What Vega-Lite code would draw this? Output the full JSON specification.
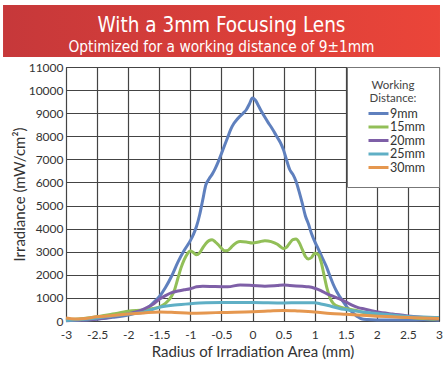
{
  "$schema": "https://vega.github.io/schema/vega-lite/v6.json",
  "padding": {"left": 3, "top": 5, "right": 0, "bottom": 0},
  "background": "white",
  "config": {"font": "Lato", "view": {"stroke": "#555"}},
  "columns": 1,
  "align": "none",
  "spacing": 3,
  "resolve": {"scale": {"color": "independent"}, "legend": {"color": "independent"}},
  "concat": [
    {
      "width": 373,
      "height": 52,
      "data": {"values": [{"banner": "header"}]},
      "mark": {"type": "rect", "clip": false, "fill": {"gradient": "linear", "x1": 0, "x2": 1, "y1": 0, "y2": 0, "stops": [{"offset": 0, "color": "#c6383a"}, {"offset": 1, "color": "#eb4539"}]}},
      "encoding": {
        "x": {"datum": -4.013, "type": "quantitative", "scale": {"domain": [-3, 3], "nice": false, "zero": false}, "axis": null},
        "x2": {"datum": 3.016}
      },
      "view": {"stroke": null},
      "title": {
        "text": "With a 3mm Focusing Lens",
        "subtitle": "Optimized for a working distance of 9±1mm",
        "color": "white",
        "subtitleColor": "white",
        "font": "DejaVu Sans Condensed",
        "subtitleFont": "DejaVu Sans Condensed",
        "fontSize": 20.5,
        "subtitleFontSize": 15.3,
        "fontWeight": "normal",
        "anchor": "middle",
        "frame": "bounds",
        "offset": -50,
        "subtitlePadding": 3
      }
    },
    {
      "width": 373,
      "height": 254,
      "data": {"values": [
        {"distance":"9mm","radius":-3,"irradiance":20},{"distance":"9mm","radius":-2.75,"irradiance":40},{"distance":"9mm","radius":-2.5,"irradiance":80},{"distance":"9mm","radius":-2.25,"irradiance":160},{"distance":"9mm","radius":-2,"irradiance":260},{"distance":"9mm","radius":-1.9,"irradiance":320},{"distance":"9mm","radius":-1.8,"irradiance":420},{"distance":"9mm","radius":-1.7,"irradiance":540},{"distance":"9mm","radius":-1.6,"irradiance":780},{"distance":"9mm","radius":-1.5,"irradiance":1050},{"distance":"9mm","radius":-1.4,"irradiance":1450},{"distance":"9mm","radius":-1.3,"irradiance":1950},{"distance":"9mm","radius":-1.2,"irradiance":2550},{"distance":"9mm","radius":-1.1,"irradiance":3050},{"distance":"9mm","radius":-1,"irradiance":3480},{"distance":"9mm","radius":-0.95,"irradiance":3750},{"distance":"9mm","radius":-0.9,"irradiance":4100},{"distance":"9mm","radius":-0.85,"irradiance":4600},{"distance":"9mm","radius":-0.8,"irradiance":5250},{"distance":"9mm","radius":-0.75,"irradiance":5900},{"distance":"9mm","radius":-0.7,"irradiance":6150},{"distance":"9mm","radius":-0.65,"irradiance":6350},{"distance":"9mm","radius":-0.6,"irradiance":6600},{"distance":"9mm","radius":-0.55,"irradiance":6900},{"distance":"9mm","radius":-0.5,"irradiance":7250},{"distance":"9mm","radius":-0.45,"irradiance":7600},{"distance":"9mm","radius":-0.4,"irradiance":7950},{"distance":"9mm","radius":-0.35,"irradiance":8300},{"distance":"9mm","radius":-0.3,"irradiance":8550},{"distance":"9mm","radius":-0.25,"irradiance":8730},{"distance":"9mm","radius":-0.2,"irradiance":8870},{"distance":"9mm","radius":-0.15,"irradiance":9000},{"distance":"9mm","radius":-0.1,"irradiance":9150},{"distance":"9mm","radius":-0.05,"irradiance":9400},{"distance":"9mm","radius":0,"irradiance":9660},{"distance":"9mm","radius":0.05,"irradiance":9550},{"distance":"9mm","radius":0.1,"irradiance":9300},{"distance":"9mm","radius":0.15,"irradiance":9050},{"distance":"9mm","radius":0.2,"irradiance":8820},{"distance":"9mm","radius":0.25,"irradiance":8600},{"distance":"9mm","radius":0.3,"irradiance":8400},{"distance":"9mm","radius":0.35,"irradiance":8180},{"distance":"9mm","radius":0.4,"irradiance":7950},{"distance":"9mm","radius":0.45,"irradiance":7720},{"distance":"9mm","radius":0.5,"irradiance":7400},{"distance":"9mm","radius":0.55,"irradiance":6950},{"distance":"9mm","radius":0.6,"irradiance":6550},{"distance":"9mm","radius":0.65,"irradiance":6350},{"distance":"9mm","radius":0.7,"irradiance":6050},{"distance":"9mm","radius":0.75,"irradiance":5600},{"distance":"9mm","radius":0.8,"irradiance":5100},{"distance":"9mm","radius":0.85,"irradiance":4560},{"distance":"9mm","radius":0.9,"irradiance":4200},{"distance":"9mm","radius":0.95,"irradiance":3780},{"distance":"9mm","radius":1,"irradiance":3450},{"distance":"9mm","radius":1.05,"irradiance":3170},{"distance":"9mm","radius":1.1,"irradiance":2870},{"distance":"9mm","radius":1.15,"irradiance":2580},{"distance":"9mm","radius":1.2,"irradiance":2280},{"distance":"9mm","radius":1.25,"irradiance":1920},{"distance":"9mm","radius":1.3,"irradiance":1580},{"distance":"9mm","radius":1.35,"irradiance":1300},{"distance":"9mm","radius":1.4,"irradiance":1070},{"distance":"9mm","radius":1.45,"irradiance":870},{"distance":"9mm","radius":1.5,"irradiance":680},{"distance":"9mm","radius":1.55,"irradiance":520},{"distance":"9mm","radius":1.6,"irradiance":390},{"distance":"9mm","radius":1.65,"irradiance":270},{"distance":"9mm","radius":1.7,"irradiance":170},{"distance":"9mm","radius":1.75,"irradiance":100},{"distance":"9mm","radius":1.85,"irradiance":60},{"distance":"9mm","radius":2,"irradiance":40},{"distance":"9mm","radius":2.5,"irradiance":40},{"distance":"9mm","radius":2.75,"irradiance":50},{"distance":"9mm","radius":3,"irradiance":30},
        {"distance":"15mm","radius":-3,"irradiance":50},{"distance":"15mm","radius":-2.75,"irradiance":100},{"distance":"15mm","radius":-2.5,"irradiance":180},{"distance":"15mm","radius":-2.25,"irradiance":300},{"distance":"15mm","radius":-2,"irradiance":420},{"distance":"15mm","radius":-1.75,"irradiance":480},{"distance":"15mm","radius":-1.6,"irradiance":540},{"distance":"15mm","radius":-1.5,"irradiance":600},{"distance":"15mm","radius":-1.4,"irradiance":760},{"distance":"15mm","radius":-1.3,"irradiance":1080},{"distance":"15mm","radius":-1.25,"irradiance":1380},{"distance":"15mm","radius":-1.2,"irradiance":1850},{"distance":"15mm","radius":-1.15,"irradiance":2300},{"distance":"15mm","radius":-1.1,"irradiance":2650},{"distance":"15mm","radius":-1.05,"irradiance":2900},{"distance":"15mm","radius":-1,"irradiance":3030},{"distance":"15mm","radius":-0.95,"irradiance":2960},{"distance":"15mm","radius":-0.9,"irradiance":2870},{"distance":"15mm","radius":-0.85,"irradiance":2960},{"distance":"15mm","radius":-0.8,"irradiance":3170},{"distance":"15mm","radius":-0.75,"irradiance":3360},{"distance":"15mm","radius":-0.7,"irradiance":3480},{"distance":"15mm","radius":-0.65,"irradiance":3520},{"distance":"15mm","radius":-0.6,"irradiance":3430},{"distance":"15mm","radius":-0.55,"irradiance":3300},{"distance":"15mm","radius":-0.5,"irradiance":3150},{"distance":"15mm","radius":-0.45,"irradiance":3040},{"distance":"15mm","radius":-0.4,"irradiance":3050},{"distance":"15mm","radius":-0.35,"irradiance":3170},{"distance":"15mm","radius":-0.3,"irradiance":3310},{"distance":"15mm","radius":-0.25,"irradiance":3410},{"distance":"15mm","radius":-0.2,"irradiance":3440},{"distance":"15mm","radius":-0.1,"irradiance":3420},{"distance":"15mm","radius":0,"irradiance":3380},{"distance":"15mm","radius":0.1,"irradiance":3420},{"distance":"15mm","radius":0.2,"irradiance":3480},{"distance":"15mm","radius":0.3,"irradiance":3440},{"distance":"15mm","radius":0.4,"irradiance":3320},{"distance":"15mm","radius":0.45,"irradiance":3220},{"distance":"15mm","radius":0.5,"irradiance":3140},{"distance":"15mm","radius":0.55,"irradiance":3200},{"distance":"15mm","radius":0.6,"irradiance":3380},{"distance":"15mm","radius":0.65,"irradiance":3520},{"distance":"15mm","radius":0.7,"irradiance":3550},{"distance":"15mm","radius":0.75,"irradiance":3400},{"distance":"15mm","radius":0.8,"irradiance":3100},{"distance":"15mm","radius":0.85,"irradiance":2800},{"distance":"15mm","radius":0.9,"irradiance":2690},{"distance":"15mm","radius":0.95,"irradiance":2750},{"distance":"15mm","radius":1,"irradiance":2930},{"distance":"15mm","radius":1.05,"irradiance":2900},{"distance":"15mm","radius":1.1,"irradiance":2600},{"distance":"15mm","radius":1.15,"irradiance":2000},{"distance":"15mm","radius":1.2,"irradiance":1400},{"distance":"15mm","radius":1.25,"irradiance":980},{"distance":"15mm","radius":1.3,"irradiance":760},{"distance":"15mm","radius":1.4,"irradiance":610},{"distance":"15mm","radius":1.5,"irradiance":540},{"distance":"15mm","radius":1.65,"irradiance":465},{"distance":"15mm","radius":1.85,"irradiance":330},{"distance":"15mm","radius":2,"irradiance":280},{"distance":"15mm","radius":2.25,"irradiance":210},{"distance":"15mm","radius":2.5,"irradiance":160},{"distance":"15mm","radius":2.75,"irradiance":110},{"distance":"15mm","radius":3,"irradiance":60},
        {"distance":"20mm","radius":-3,"irradiance":10},{"distance":"20mm","radius":-2.75,"irradiance":40},{"distance":"20mm","radius":-2.5,"irradiance":90},{"distance":"20mm","radius":-2.25,"irradiance":190},{"distance":"20mm","radius":-2,"irradiance":310},{"distance":"20mm","radius":-1.9,"irradiance":380},{"distance":"20mm","radius":-1.8,"irradiance":460},{"distance":"20mm","radius":-1.7,"irradiance":580},{"distance":"20mm","radius":-1.6,"irradiance":720},{"distance":"20mm","radius":-1.5,"irradiance":940},{"distance":"20mm","radius":-1.4,"irradiance":1100},{"distance":"20mm","radius":-1.3,"irradiance":1230},{"distance":"20mm","radius":-1.2,"irradiance":1300},{"distance":"20mm","radius":-1.1,"irradiance":1350},{"distance":"20mm","radius":-1,"irradiance":1400},{"distance":"20mm","radius":-0.9,"irradiance":1480},{"distance":"20mm","radius":-0.8,"irradiance":1510},{"distance":"20mm","radius":-0.6,"irradiance":1490},{"distance":"20mm","radius":-0.4,"irradiance":1480},{"distance":"20mm","radius":-0.2,"irradiance":1560},{"distance":"20mm","radius":0,"irradiance":1540},{"distance":"20mm","radius":0.2,"irradiance":1510},{"distance":"20mm","radius":0.4,"irradiance":1540},{"distance":"20mm","radius":0.5,"irradiance":1560},{"distance":"20mm","radius":0.6,"irradiance":1540},{"distance":"20mm","radius":0.8,"irradiance":1500},{"distance":"20mm","radius":0.9,"irradiance":1480},{"distance":"20mm","radius":1,"irradiance":1420},{"distance":"20mm","radius":1.1,"irradiance":1320},{"distance":"20mm","radius":1.2,"irradiance":1170},{"distance":"20mm","radius":1.3,"irradiance":1070},{"distance":"20mm","radius":1.4,"irradiance":960},{"distance":"20mm","radius":1.5,"irradiance":830},{"distance":"20mm","radius":1.6,"irradiance":690},{"distance":"20mm","radius":1.7,"irradiance":580},{"distance":"20mm","radius":1.8,"irradiance":520},{"distance":"20mm","radius":1.9,"irradiance":460},{"distance":"20mm","radius":2,"irradiance":400},{"distance":"20mm","radius":2.25,"irradiance":300},{"distance":"20mm","radius":2.5,"irradiance":220},{"distance":"20mm","radius":2.75,"irradiance":150},{"distance":"20mm","radius":3,"irradiance":80},
        {"distance":"25mm","radius":-3,"irradiance":20},{"distance":"25mm","radius":-2.75,"irradiance":60},{"distance":"25mm","radius":-2.5,"irradiance":130},{"distance":"25mm","radius":-2.25,"irradiance":220},{"distance":"25mm","radius":-2,"irradiance":300},{"distance":"25mm","radius":-1.75,"irradiance":380},{"distance":"25mm","radius":-1.5,"irradiance":590},{"distance":"25mm","radius":-1.25,"irradiance":690},{"distance":"25mm","radius":-1,"irradiance":750},{"distance":"25mm","radius":-0.75,"irradiance":790},{"distance":"25mm","radius":-0.5,"irradiance":800},{"distance":"25mm","radius":0,"irradiance":800},{"distance":"25mm","radius":0.5,"irradiance":780},{"distance":"25mm","radius":0.75,"irradiance":790},{"distance":"25mm","radius":1,"irradiance":790},{"distance":"25mm","radius":1.1,"irradiance":740},{"distance":"25mm","radius":1.2,"irradiance":680},{"distance":"25mm","radius":1.4,"irradiance":540},{"distance":"25mm","radius":1.6,"irradiance":450},{"distance":"25mm","radius":1.8,"irradiance":380},{"distance":"25mm","radius":2,"irradiance":330},{"distance":"25mm","radius":2.25,"irradiance":260},{"distance":"25mm","radius":2.5,"irradiance":200},{"distance":"25mm","radius":2.75,"irradiance":170},{"distance":"25mm","radius":3,"irradiance":150},
        {"distance":"30mm","radius":-3,"irradiance":130},{"distance":"30mm","radius":-2.85,"irradiance":90},{"distance":"30mm","radius":-2.75,"irradiance":100},{"distance":"30mm","radius":-2.5,"irradiance":180},{"distance":"30mm","radius":-2.25,"irradiance":240},{"distance":"30mm","radius":-2,"irradiance":300},{"distance":"30mm","radius":-1.75,"irradiance":350},{"distance":"30mm","radius":-1.5,"irradiance":390},{"distance":"30mm","radius":-1.25,"irradiance":370},{"distance":"30mm","radius":-1,"irradiance":340},{"distance":"30mm","radius":-0.75,"irradiance":350},{"distance":"30mm","radius":-0.5,"irradiance":370},{"distance":"30mm","radius":0,"irradiance":400},{"distance":"30mm","radius":0.25,"irradiance":430},{"distance":"30mm","radius":0.5,"irradiance":460},{"distance":"30mm","radius":0.75,"irradiance":430},{"distance":"30mm","radius":1,"irradiance":390},{"distance":"30mm","radius":1.25,"irradiance":330},{"distance":"30mm","radius":1.5,"irradiance":290},{"distance":"30mm","radius":1.75,"irradiance":250},{"distance":"30mm","radius":2,"irradiance":210},{"distance":"30mm","radius":2.25,"irradiance":180},{"distance":"30mm","radius":2.5,"irradiance":150},{"distance":"30mm","radius":2.75,"irradiance":130},{"distance":"30mm","radius":3,"irradiance":110}
      ]},
      "mark": {"type": "line", "interpolate": "monotone", "strokeWidth": 3},
      "view": {"stroke": "#555"},
      "encoding": {
        "x": {
          "field": "radius", "type": "quantitative",
          "scale": {"domain": [-3, 3], "nice": false, "zero": false},
          "axis": {
            "values": [-3, -2.5, -2, -1.5, -1, -0.5, 0, 0.5, 1, 1.5, 2, 2.5, 3],
            "labelExpr": "toString(datum.value)",
            "labelFont": "Lato", "labelFontSize": 12, "labelColor": "#333", "labelPadding": 8,
            "labelFlush": false,
            "ticks": false, "domain": false, "gridColor": "#444", "gridWidth": 1.2, "gridOpacity": 1,
            "title": "Radius of Irradiation Area (mm)",
            "titleFont": "Lato", "titleFontSize": 15, "titleFontWeight": "normal", "titleColor": "#333", "titlePadding": 4
          }
        },
        "y": {
          "field": "irradiance", "type": "quantitative",
          "scale": {"domain": [0, 11000], "nice": false},
          "axis": {
            "values": [0, 1000, 2000, 3000, 4000, 5000, 6000, 7000, 8000, 9000, 10000, 11000],
            "labelExpr": "toString(datum.value)",
            "labelFont": "Lato", "labelFontSize": 12, "labelColor": "#333", "labelPadding": 3,
            "ticks": false, "domain": false, "gridColor": "#444", "gridWidth": 1.2, "gridOpacity": 1,
            "title": "Irradiance (mW/cm²)",
            "titleFont": "Lato", "titleFontSize": 15, "titleFontWeight": "normal", "titleColor": "#333", "titlePadding": 1
          }
        },
        "color": {
          "field": "distance", "type": "nominal",
          "scale": {"domain": ["9mm", "15mm", "20mm", "25mm", "30mm"], "range": ["#5f80be", "#92bf58", "#7e5fa7", "#5fafc5", "#e5974f"]},
          "legend": {
            "title": ["Working", "Distance:"],
            "orient": "top-right", "offset": 0, "padding": 13,
            "fillColor": "white", "strokeColor": "#777",
            "symbolType": "M-2,0H2", "symbolSize": 100, "symbolStrokeWidth": 3, "symbolOffset": 12,
            "labelOffset": 5, "labelFont": "Lato", "labelFontSize": 12.5, "labelColor": "#333",
            "titleFont": "Lato", "titleFontSize": 11.5, "titleFontWeight": "normal", "titleColor": "#444",
            "titleAlign": "center", "titleAnchor": "middle", "titleLineHeight": 12.5, "titlePadding": 3, "rowPadding": 0.5
          }
        }
      }
    }
  ]
}
